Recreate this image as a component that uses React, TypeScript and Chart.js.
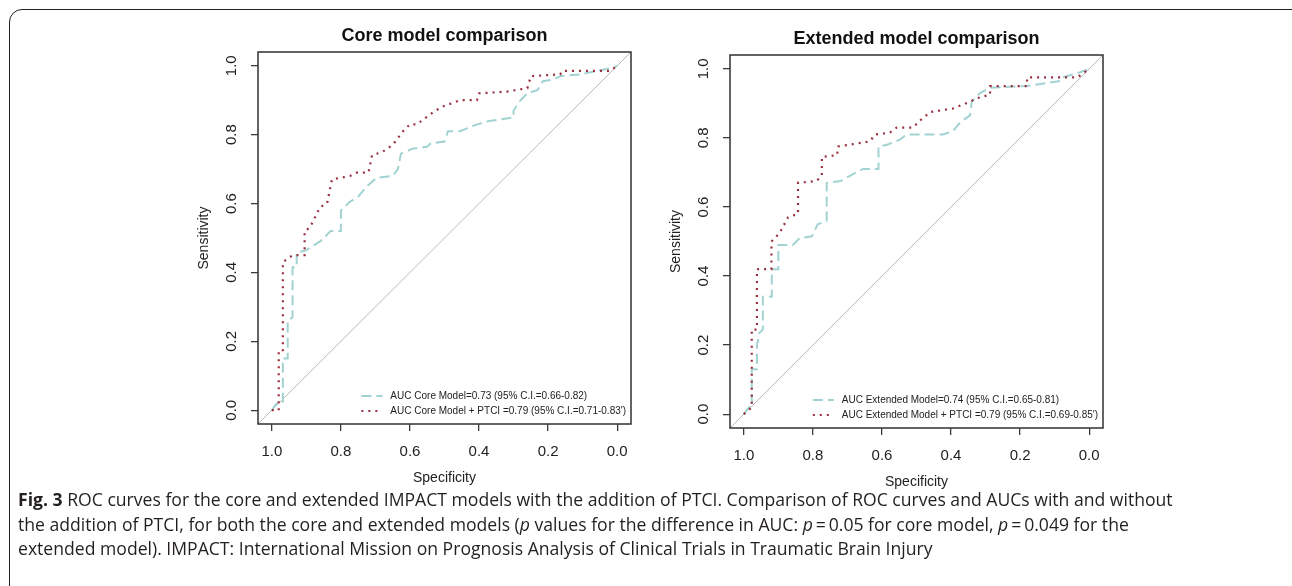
import React, { useEffect, useRef } from "react";
import { Chart, registerables } from "chart.js";

Chart.register(...registerables);

const tickValues = [1.0, 0.8, 0.6, 0.4, 0.2, 0.0];
const tickLabels = ["1.0", "0.8", "0.6", "0.4", "0.2", "0.0"];
const xAxisTitle = "Specificity";
const yAxisTitle = "Sensitivity";
const coreTitle = "Core model comparison";
const extTitle = "Extended model comparison";
const coreLegend = [
  "AUC Core Model=0.73 (95% C.I.=0.66-0.82)",
  "AUC Core Model + PTCI =0.79 (95% C.I.=0.71-0.83')",
];
const extLegend = [
  "AUC Extended Model=0.74 (95% C.I.=0.65-0.81)",
  "AUC Extended Model + PTCI =0.79 (95% C.I.=0.69-0.85')",
];

// Core model (teal dashed)
const coreSpec = [1.0, 0.99, 0.985, 0.968, 0.968, 0.954, 0.954, 0.94, 0.94, 0.928, 0.928, 0.9, 0.86, 0.83, 0.8, 0.8, 0.774, 0.75, 0.725, 0.696, 0.65, 0.635, 0.626, 0.59, 0.55, 0.54, 0.5, 0.49, 0.455, 0.406, 0.37, 0.3, 0.3, 0.28, 0.26, 0.23, 0.215, 0.185, 0.165, 0.107, 0.01, 0.0];
const coreSens = [0.0, 0.015, 0.02, 0.02, 0.15, 0.15, 0.26, 0.27, 0.415, 0.415, 0.456, 0.465, 0.49, 0.52, 0.52, 0.58, 0.605, 0.62, 0.65, 0.675, 0.68, 0.7, 0.745, 0.76, 0.765, 0.775, 0.78, 0.81, 0.81, 0.83, 0.84, 0.85, 0.87, 0.9, 0.92, 0.93, 0.955, 0.96, 0.97, 0.975, 0.995, 1.0];
// Core model + PTCI (red dotted)
const corePtciSpec = [1.0, 0.98, 0.98, 0.968, 0.968, 0.94, 0.905, 0.905, 0.89, 0.86, 0.84, 0.826, 0.774, 0.754, 0.72, 0.71, 0.68, 0.65, 0.62, 0.6, 0.58, 0.54, 0.51, 0.455, 0.406, 0.4, 0.32, 0.26, 0.25, 0.165, 0.16, 0.02, 0.0];
const corePtciSens = [0.0, 0.0, 0.17, 0.17, 0.43, 0.45, 0.45, 0.52, 0.53, 0.59, 0.6, 0.67, 0.68, 0.69, 0.69, 0.74, 0.75, 0.77, 0.81, 0.83, 0.83, 0.86, 0.88, 0.9, 0.9, 0.92, 0.925, 0.935, 0.97, 0.975, 0.985, 0.985, 1.0];
// Extended model (teal dashed)
const extSpec = [1.0, 0.985, 0.977, 0.977, 0.962, 0.962, 0.955, 0.945, 0.945, 0.919, 0.919, 0.9, 0.9, 0.858, 0.838, 0.803, 0.786, 0.76, 0.76, 0.72, 0.693, 0.655, 0.61, 0.61, 0.585, 0.548, 0.528, 0.423, 0.394, 0.374, 0.345, 0.34, 0.316, 0.287, 0.23, 0.18, 0.084, 0.078, 0.026, 0.0];
const extSens = [0.0, 0.02, 0.02, 0.13, 0.13, 0.2, 0.235, 0.245, 0.34, 0.34, 0.42, 0.42, 0.49, 0.49, 0.51, 0.515, 0.55, 0.56, 0.67, 0.675, 0.69, 0.71, 0.71, 0.775, 0.78, 0.795, 0.81, 0.81, 0.82, 0.845, 0.865, 0.905, 0.93, 0.945, 0.948, 0.95, 0.965, 0.975, 0.99, 1.0];
// Extended model + PTCI (red dotted)
const extPtciSpec = [1.0, 0.977, 0.977, 0.962, 0.962, 0.92, 0.92, 0.896, 0.872, 0.843, 0.843, 0.79, 0.774, 0.774, 0.73, 0.727, 0.635, 0.62, 0.577, 0.557, 0.51, 0.49, 0.46, 0.394, 0.345, 0.325, 0.287, 0.287, 0.18, 0.18, 0.035, 0.02, 0.0];
const extPtciSens = [0.0, 0.02, 0.245, 0.245, 0.42, 0.42, 0.5, 0.525, 0.57, 0.58, 0.67, 0.675, 0.69, 0.745, 0.75, 0.775, 0.79, 0.81, 0.815, 0.83, 0.83, 0.85, 0.875, 0.885, 0.905, 0.915, 0.925, 0.95, 0.95, 0.975, 0.975, 0.985, 1.0];

const TEAL = "#a2d3d2";
const RED = "#9a2f3e";
const TEAL_DASH = [10, 5];
const RED_DASH = [2, 5];
const FONT = '"Liberation Sans", Arial, Helvetica, sans-serif';

type Area = { left: number; top: number; right: number; bottom: number };
type PanelProps = {
  title: string; legend: string[];
  aSpec: number[]; aSens: number[]; bSpec: number[]; bSens: number[];
  left: number; top: number; width: number; height: number; area: Area;
};

function zip(xs: number[], ys: number[]) {
  return xs.map((x, i) => ({ x, y: ys[i] }));
}

function RocPanel(p: PanelProps) {
  const ref = useRef<HTMLCanvasElement>(null);
  useEffect(() => {
    const canvas = ref.current;
    if (!canvas) return;
    const padTop = p.area.top - p.top;
    const padRight = p.left + p.width - p.area.right;
    const yWidth = p.area.left - p.left;
    const xHeight = p.top + p.height - p.area.bottom;
    const decor = {
      id: "decor",
      afterDraw(chart: any) {
        const { ctx, chartArea: a, scales } = chart;
        const xs = scales.x;
        const ys = scales.y;
        ctx.save();
        ctx.setLineDash([]);
        ctx.strokeStyle = "#3c3c3c";
        ctx.lineWidth = 1.6;
        ctx.strokeRect(a.left, a.top, a.right - a.left, a.bottom - a.top);
        ctx.fillStyle = "#222";
        ctx.font = `15px ${FONT}`;
        ctx.textAlign = "center";
        ctx.textBaseline = "middle";
        tickValues.forEach((v, i) => {
          ctx.fillText(tickLabels[i], xs.getPixelForValue(v), a.bottom + 28);
        });
        tickValues.forEach((v, i) => {
          ctx.save();
          ctx.translate(a.left - 26, ys.getPixelForValue(v));
          ctx.rotate(-Math.PI / 2);
          ctx.fillText(tickLabels[i], 0, 0);
          ctx.restore();
        });
        ctx.font = `14px ${FONT}`;
        ctx.fillText(xAxisTitle, (a.left + a.right) / 2, a.bottom + 54);
        ctx.save();
        ctx.translate(a.left - 54, (a.top + a.bottom) / 2);
        ctx.rotate(-Math.PI / 2);
        ctx.fillText(yAxisTitle, 0, 0);
        ctx.restore();
        ctx.fillStyle = "#111";
        ctx.font = `bold 18px ${FONT}`;
        ctx.textBaseline = "alphabetic";
        ctx.fillText(p.title, (a.left + a.right) / 2, a.top - 11);
        ctx.font = `10px ${FONT}`;
        ctx.textAlign = "left";
        ctx.textBaseline = "middle";
        const widths = p.legend.map((t) => ctx.measureText(t).width);
        const maxW = Math.max(...widths);
        const tx = a.right - 5 - maxW;
        const styles = [{ c: TEAL, d: TEAL_DASH }, { c: RED, d: RED_DASH }];
        p.legend.forEach((t, i) => {
          const yy = a.bottom - 28 + i * 15;
          ctx.strokeStyle = styles[i].c;
          ctx.lineWidth = 2;
          ctx.setLineDash(styles[i].d);
          ctx.beginPath();
          ctx.moveTo(tx - 29, yy);
          ctx.lineTo(tx - 8, yy);
          ctx.stroke();
          ctx.setLineDash([]);
          ctx.fillStyle = "#222";
          ctx.fillText(t, tx, yy);
        });
        ctx.restore();
      },
    };
    const tickBuilder = (s: any) => {
      s.ticks = tickValues.map((v) => ({ value: v }));
    };
    const grid = { drawOnChartArea: false, drawTicks: true, tickLength: 7, color: "#3c3c3c", lineWidth: 1.3 };
    const chart = new Chart(canvas, {
      type: "line",
      data: {
        datasets: [
          { label: p.legend[1], data: zip(p.bSpec, p.bSens), borderColor: RED, borderWidth: 2.2, borderDash: RED_DASH, pointRadius: 0, tension: 0, fill: false, order: 1 },
          { label: p.legend[0], data: zip(p.aSpec, p.aSens), borderColor: TEAL, borderWidth: 2, borderDash: TEAL_DASH, pointRadius: 0, tension: 0, fill: false, order: 2 },
          { label: "diagonal", data: [{ x: 1.04, y: -0.04 }, { x: -0.04, y: 1.04 }], borderColor: "#b9b9b9", borderWidth: 1, pointRadius: 0, tension: 0, fill: false, order: 3 },
        ],
      },
      options: {
        responsive: false, maintainAspectRatio: false, animation: false, devicePixelRatio: 1,
        layout: { padding: { top: padTop, right: padRight, left: 0, bottom: 0 } },
        plugins: { legend: { display: false }, tooltip: { enabled: false }, title: { display: false } },
        scales: {
          x: { type: "linear", reverse: true, min: -0.04, max: 1.04, bounds: "data", afterBuildTicks: tickBuilder,
               afterFit: (s: any) => { s.height = xHeight; }, ticks: { display: false }, grid, border: { display: false } },
          y: { type: "linear", min: -0.04, max: 1.04, bounds: "data", afterBuildTicks: tickBuilder,
               afterFit: (s: any) => { s.width = yWidth; }, ticks: { display: false }, grid, border: { display: false } },
        },
      } as any,
      plugins: [decor],
    });
    return () => chart.destroy();
  }, []);
  return (
    <canvas ref={ref} width={p.width} height={p.height}
      style={{ position: "absolute", left: p.left, top: p.top, width: p.width, height: p.height }} />
  );
}

export default function App() {
  const pStyle: React.CSSProperties = {
    position: "absolute", left: 18, top: 487, margin: 0,
    fontFamily: '"Open Sans", "Noto Sans", sans-serif', fontSize: 17.6, lineHeight: "24.5px",
    color: "#231f20", whiteSpace: "nowrap",
  };
  return (
    <div style={{ position: "absolute", left: 0, top: 0, width: 1292, height: 586, overflow: "hidden", background: "#fff" }}>
      <div style={{ position: "absolute", left: 9, top: 9, width: 1320, height: 620, border: "1.8px solid #222", borderTopLeftRadius: 13, boxSizing: "border-box" }} />
      <RocPanel title={coreTitle} legend={coreLegend} aSpec={coreSpec} aSens={coreSens} bSpec={corePtciSpec} bSens={corePtciSens}
        left={140} top={0} width={510} height={500} area={{ left: 258, top: 52, right: 631, bottom: 424 }} />
      <RocPanel title={extTitle} legend={extLegend} aSpec={extSpec} aSens={extSens} bSpec={extPtciSpec} bSens={extPtciSens}
        left={620} top={0} width={500} height={500} area={{ left: 730, top: 55, right: 1103, bottom: 428 }} />
      <p style={pStyle}>
        <b>Fig. 3</b> ROC curves for the core and extended IMPACT models with the addition of PTCI. Comparison of ROC curves and AUCs with and without
        <br />
        the addition of PTCI, for both the core and extended models (<i>p</i> values for the difference in AUC: <i>p</i>{"\u2009=\u2009"}0.05 for core model, <i>p</i>{"\u2009=\u2009"}0.049 for the
        <br />
        extended model). IMPACT: International Mission on Prognosis Analysis of Clinical Trials in Traumatic Brain Injury
      </p>
    </div>
  );
}
